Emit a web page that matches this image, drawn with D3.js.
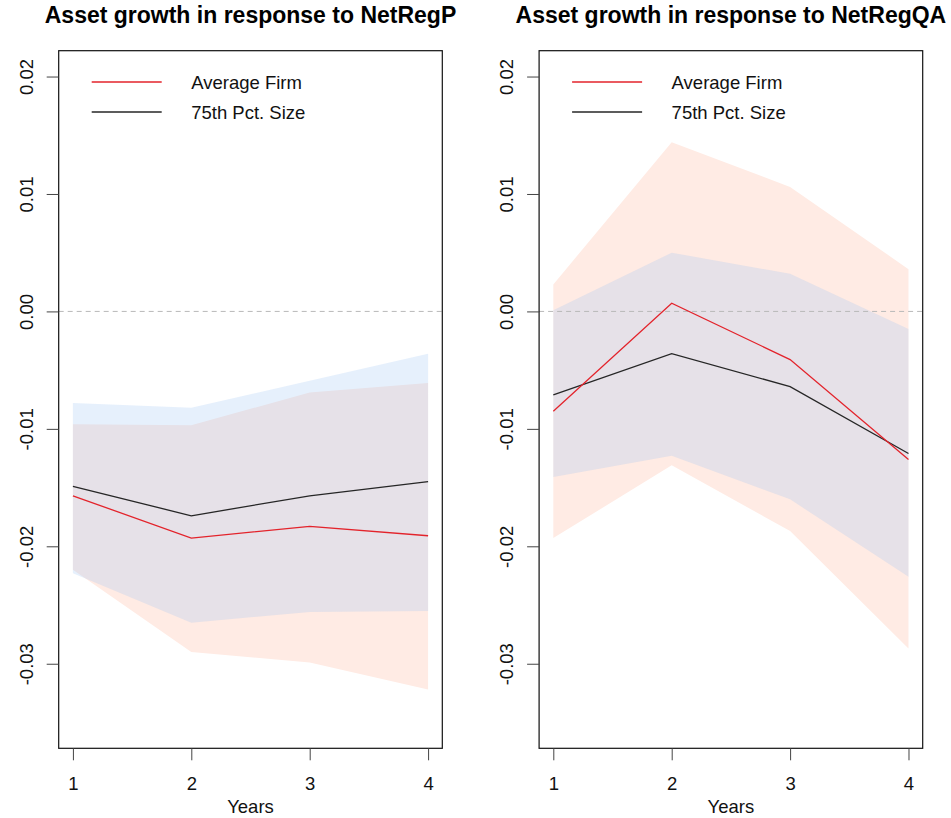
<!DOCTYPE html>
<html>
<head>
<meta charset="utf-8">
<script src="https://cdn.jsdelivr.net/npm/d3@7"></script>
<style>
  body { margin: 0; background: #fff; }
  svg { display: block; font-family: "Liberation Sans", Arial, sans-serif; }
</style>
</head>
<body>
<div id="app"></div>
<script>
// years after the shock
const years = [1, 2, 3, 4];
const yTicks = [-0.03, -0.02, -0.01, 0, 0.01, 0.02];
const legendLabels = ['Average Firm', '75th Pct. Size'];

// NetRegP panel
const avgP = [-0.0157, -0.0193, -0.0183, -0.0191];
const avgPLo = [-0.0220, -0.0290, -0.0299, -0.0322];
const avgPHi = [-0.0096, -0.0097, -0.0069, -0.0061];
const p75P = [-0.0149, -0.0174, -0.0157, -0.0145];
const p75PLo = [-0.0223, -0.0265, -0.0256, -0.0255];
const p75PHi = [-0.0078, -0.0082, -0.0059, -0.0036];

// NetRegQA panel
const avgQA = [-0.0085, 0.0007, -0.0041, -0.0126];
const avgQALo = [-0.0193, -0.0131, -0.0187, -0.0287];
const avgQAHi = [0.0023, 0.0144, 0.0106, 0.0036];
const p75QA = [-0.0071, -0.0036, -0.0064, -0.0121];
const p75QALo = [-0.0141, -0.0123, -0.0160, -0.0226];
const p75QAHi = [0.0001, 0.0050, 0.0032, -0.0015];

const WIDTH = 951;
const HEIGHT = 818;
const TOP = 50.7;
const BOTTOM = 748.3;
const FONT = 18.5;

const RED = '#e3232b';
const BLACK = '#262626';
const ORANGE_FILL = '#ffebe4';
const BLUE_FILL = 'rgba(155,195,243,0.25)';

const panels = [
  { title: 'Asset growth in response to NetRegP', left: 58.7, right: 442.3,
    avg: avgP, avgLo: avgPLo, avgHi: avgPHi, p75: p75P, p75Lo: p75PLo, p75Hi: p75PHi },
  { title: 'Asset growth in response to NetRegQA', left: 539.1, right: 922.7,
    avg: avgQA, avgLo: avgQALo, avgHi: avgQAHi, p75: p75QA, p75Lo: p75QALo, p75Hi: p75QAHi }
];

const svg = d3.select('#app')
  .append('svg')
  .attr('width', WIDTH)
  .attr('height', HEIGHT);

// R-style 4% padding around the data range
const y = d3.scaleLinear()
  .domain([-0.035 - 0.0022, 0.02 + 0.0022])
  .range([BOTTOM, TOP]);

panels.forEach(drawPanel);

function drawPanel(p) {
  const x = d3.scaleLinear()
    .domain([1 - 0.12, 4 + 0.12])
    .range([p.left, p.right]);

  const g = svg.append('g');

  const band = (lo, hi) => d3.area()
    .x((_, i) => x(years[i]))
    .y0((_, i) => y(lo[i]))
    .y1((_, i) => y(hi[i]))(years);

  const line = vals => d3.line()
    .x((_, i) => x(years[i]))
    .y((_, i) => y(vals[i]))(years);

  g.append('path').attr('d', band(p.avgLo, p.avgHi)).attr('fill', ORANGE_FILL);
  g.append('path').attr('d', band(p.p75Lo, p.p75Hi)).attr('fill', BLUE_FILL);

  g.append('line')
    .attr('x1', p.left).attr('x2', p.right)
    .attr('y1', y(0)).attr('y2', y(0))
    .attr('stroke', '#b8b8b8')
    .attr('stroke-dasharray', '5,4');

  g.append('path').attr('d', line(p.p75)).attr('fill', 'none')
    .attr('stroke', BLACK).attr('stroke-width', 1.3);
  g.append('path').attr('d', line(p.avg)).attr('fill', 'none')
    .attr('stroke', RED).attr('stroke-width', 1.3);

  // box
  g.append('rect')
    .attr('x', p.left).attr('y', TOP)
    .attr('width', p.right - p.left).attr('height', BOTTOM - TOP)
    .attr('fill', 'none').attr('stroke', '#111').attr('stroke-width', 1.2);

  // y axis with rotated labels
  const yAxis = g.append('g')
    .attr('transform', `translate(${p.left},0)`)
    .call(d3.axisLeft(y).tickValues(yTicks).tickSize(12).tickSizeOuter(0)
      .tickFormat(d => d.toFixed(2)));
  yAxis.select('.domain').remove();
  yAxis.selectAll('.tick line').attr('stroke', '#444');
  yAxis.selectAll('.tick text')
    .attr('transform', 'rotate(-90)')
    .attr('x', 0).attr('y', -26).attr('dy', 0)
    .attr('text-anchor', 'middle')
    .attr('fill', '#111')
    .style('font-size', FONT + 'px')
    .style('font-family', '"Liberation Sans", Arial, sans-serif');

  // x axis
  const xAxis = g.append('g')
    .attr('transform', `translate(0,${BOTTOM})`)
    .call(d3.axisBottom(x).tickValues(years).tickSize(12).tickSizeOuter(0)
      .tickFormat(d3.format('d')));
  xAxis.select('.domain').remove();
  xAxis.selectAll('.tick line').attr('stroke', '#444');
  xAxis.selectAll('.tick text')
    .attr('y', 41.7).attr('dy', 0)
    .attr('fill', '#111')
    .style('font-size', FONT + 'px')
    .style('font-family', '"Liberation Sans", Arial, sans-serif');

  const mid = (p.left + p.right) / 2;

  g.append('text')
    .attr('x', mid).attr('y', 813)
    .attr('text-anchor', 'middle')
    .style('font-size', FONT + 'px')
    .attr('fill', '#111')
    .text('Years');

  g.append('text')
    .attr('x', mid).attr('y', 23)
    .attr('text-anchor', 'middle')
    .style('font-size', '23px')
    .style('font-weight', 'bold')
    .attr('fill', '#000')
    .text(p.title);

  // legend
  const lg = g.append('g').attr('transform', `translate(${p.left},0)`);
  const colors = [RED, BLACK];
  legendLabels.forEach((label, i) => {
    const ly = 82 + i * 30;
    lg.append('line')
      .attr('x1', 33).attr('x2', 103)
      .attr('y1', ly).attr('y2', ly)
      .attr('stroke', colors[i]).attr('stroke-width', 1.3);
    lg.append('text')
      .attr('x', 132.5).attr('y', ly + 7)
      .style('font-size', FONT + 'px')
      .attr('fill', '#111')
      .text(label);
  });
}
</script>
</body>
</html>
